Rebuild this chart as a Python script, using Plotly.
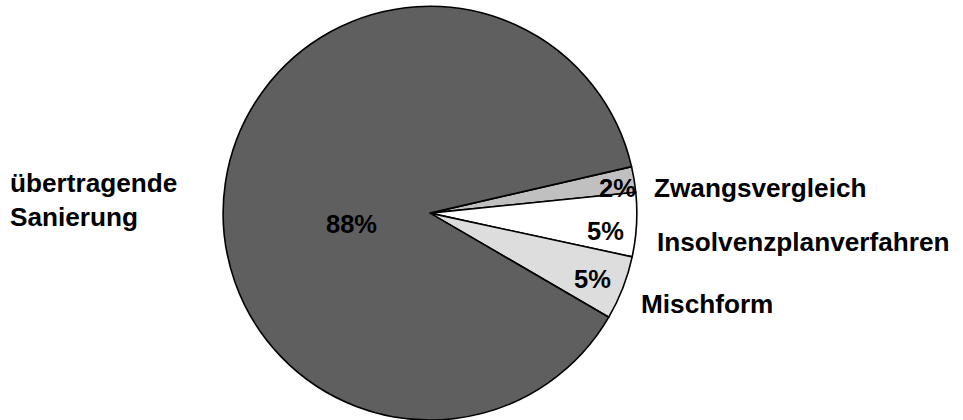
import plotly.graph_objects as go

# Shares of restructuring forms (percent), listed clockwise from the upper right
categories = ["Zwangsvergleich", "Insolvenzplanverfahren", "Mischform", "übertragende Sanierung"]
values = [2, 5, 5, 88]
category_labels = ["Zwangsvergleich", "Insolvenzplanverfahren", "Mischform", "übertragende<br>Sanierung"]

slice_colors = ["#c0c0c0", "#ffffff", "#dddddd", "#5f5f5f"]

W, H = 963, 420
FONT = "Liberation Sans, Arial, Helvetica, sans-serif"

fig = go.Figure(
    go.Pie(
        labels=categories,
        values=values,
        sort=False,
        direction="clockwise",
        rotation=77,
        marker=dict(colors=slice_colors, line=dict(color="#000000", width=1.6)),
        textinfo="none",
        hoverinfo="skip",
        domain=dict(x=[0, 860 / W], y=[0, 0.985]),
        showlegend=False,
    )
)

total = sum(values)
pct_text = [f"{round(v / total * 100)}%" for v in values]

# label placement in pixels (x from left, y from top)
pct_pos = [(617, 188), (605, 231), (592, 279), (351, 224)]
cat_pos = [(652, 188), (655, 242), (639, 304), (8, 200)]

annotations = []
for txt, (px, py) in zip(pct_text, pct_pos):
    annotations.append(dict(
        text=f"<b>{txt}</b>", x=px / W, y=1 - py / H, xref="paper", yref="paper",
        xanchor="center", yanchor="middle", showarrow=False,
        font=dict(family=FONT, size=25.5, color="#000000"),
    ))
for txt, (px, py) in zip(category_labels, cat_pos):
    annotations.append(dict(
        text=f"<b>{txt}</b>", x=px / W, y=1 - py / H, xref="paper", yref="paper",
        xanchor="left", yanchor="middle", align="left", showarrow=False,
        font=dict(family=FONT, size=26.2, color="#000000"),
    ))

fig.update_layout(
    width=W, height=H,
    margin=dict(l=0, r=0, t=0, b=0),
    paper_bgcolor="#ffffff",
    plot_bgcolor="#ffffff",
    annotations=annotations,
)

fig.write_html("out.html")
